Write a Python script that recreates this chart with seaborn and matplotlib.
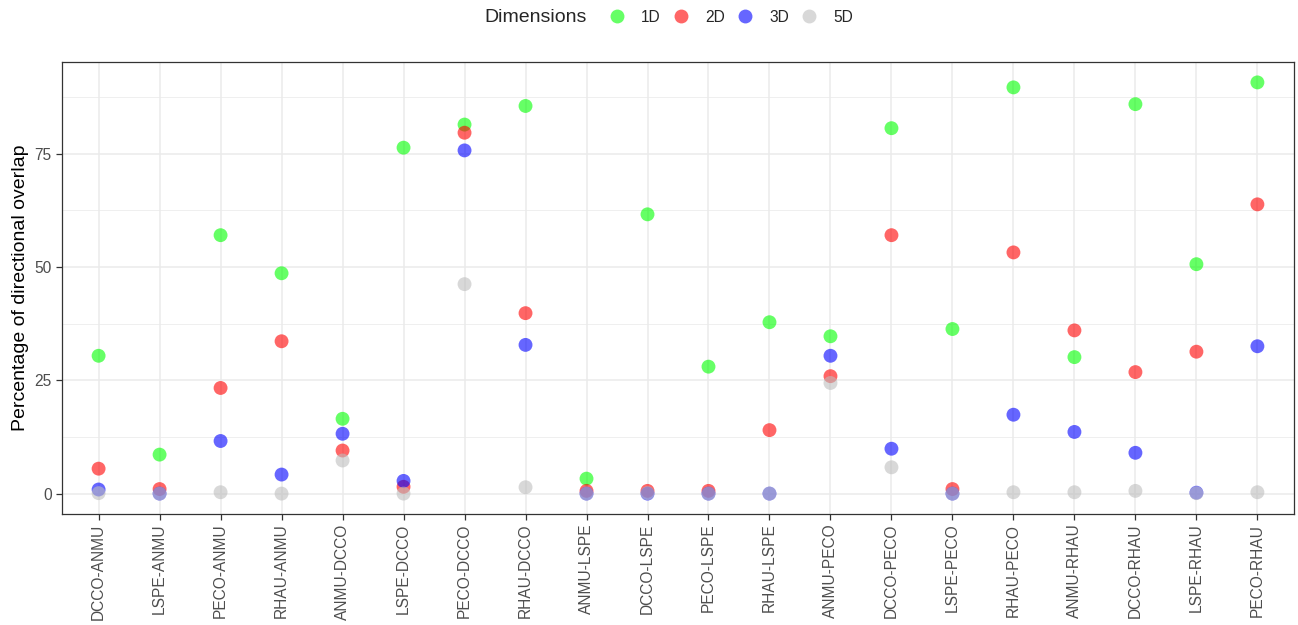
import pandas as pd
import seaborn as sns
import matplotlib.pyplot as plt
from matplotlib.ticker import MultipleLocator

# species pairs along the x axis
pairs = ['DCCO-ANMU', 'LSPE-ANMU', 'PECO-ANMU', 'RHAU-ANMU',
         'ANMU-DCCO', 'LSPE-DCCO', 'PECO-DCCO', 'RHAU-DCCO',
         'ANMU-LSPE', 'DCCO-LSPE', 'PECO-LSPE', 'RHAU-LSPE',
         'ANMU-PECO', 'DCCO-PECO', 'LSPE-PECO', 'RHAU-PECO',
         'ANMU-RHAU', 'DCCO-RHAU', 'LSPE-RHAU', 'PECO-RHAU']

# percentage of directional overlap per dimension
d1 = [30.4, 8.6, 57.0, 48.6, 16.5, 76.3, 81.4, 85.5, 3.3, 61.6,
      28.0, 37.8, 34.7, 80.6, 36.3, 89.6, 30.1, 85.9, 50.6, 90.7]
d2 = [5.5, 1.0, 23.3, 33.6, 9.5, 1.5, 79.6, 39.8, 0.6, 0.6,
      0.6, 14.0, 25.9, 57.0, 1.0, 53.2, 36.0, 26.8, 31.3, 63.8]
d3 = [0.9, 0.0, 11.6, 4.2, 13.2, 2.8, 75.7, 32.8, 0.0, 0.0,
      0.0, 0.0, 30.4, 9.9, 0.0, 17.4, 13.6, 9.0, 0.2, 32.5]
d5 = [0.1, 0.0, 0.3, 0.0, 7.3, 0.0, 46.2, 1.4, 0.0, 0.1,
      0.0, 0.0, 24.4, 5.8, 0.0, 0.3, 0.3, 0.6, 0.1, 0.3]

dims = ['1D', '2D', '3D', '5D']
colors = ['#00FF00', '#FF0000', '#0000FF', '#BEBEBE']

rows = []
for name, vals in zip(dims, [d1, d2, d3, d5]):
    for p, v in zip(pairs, vals):
        rows.append((p, v, name))
df = pd.DataFrame(rows, columns=['pair', 'overlap', 'Dimensions'])

sns.set_style('white')
plt.rcParams['font.family'] = ['Liberation Sans', 'DejaVu Sans']

fig = plt.figure(figsize=(12.98, 6.25), dpi=100)
ax = fig.add_axes([62 / 1298, 1 - 514 / 625, (1294 - 62) / 1298, (514 - 62) / 625])

sns.scatterplot(data=df, x='pair', y='overlap', hue='Dimensions',
                hue_order=dims, palette=colors, s=100, alpha=0.6,
                linewidth=0, ax=ax, zorder=3)

handles, labels = ax.get_legend_handles_labels()
ax.get_legend().remove()

ax.set_xlim(-0.6, len(pairs) - 0.4)
ax.set_ylim(-4.5, 95.2)
ax.yaxis.set_major_locator(MultipleLocator(25))
ax.yaxis.set_minor_locator(MultipleLocator(12.5))
ax.grid(True, which='major', color='#EBEBEB', linewidth=1.1, zorder=0)
ax.grid(True, which='minor', axis='y', color='#EBEBEB', linewidth=0.55, zorder=0)
ax.set_axisbelow(True)
for s in ax.spines.values():
    s.set_color('#333333')
    s.set_linewidth(0.9)

ax.tick_params(axis='both', which='major', length=4, width=0.9, color='#333333',
               labelcolor='#4D4D4D', labelsize=11.2, left=True, bottom=True)
ax.tick_params(axis='y', which='minor', length=0)
ax.tick_params(axis='x', labelrotation=90, pad=3)
ax.set_xlabel('')
ax.set_ylabel('Percentage of directional overlap', fontsize=14, color='black', labelpad=4)

fig.text(536 / 1298, 1 - 17 / 625, 'Dimensions', fontsize=14, ha='center', va='center')
fig.legend(handles, labels, loc='center', bbox_to_anchor=(731 / 1298, 1 - 17 / 625),
           ncol=4, frameon=False, fontsize=11.2, handlelength=1.0,
           handletextpad=1.05, columnspacing=0.8, markerscale=1.0)

fig.savefig('out.png', dpi=100)
